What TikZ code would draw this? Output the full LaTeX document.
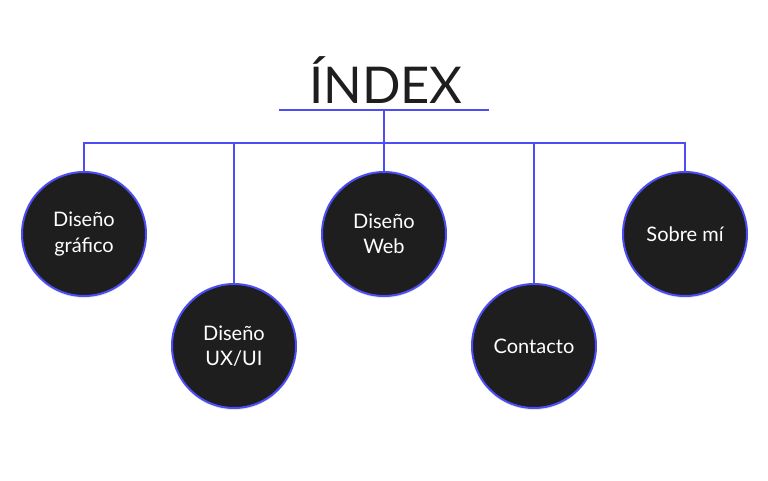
\documentclass[tikz,border=0pt]{standalone}
\usepackage{fontspec}
\setmainfont{Lato}
\usetikzlibrary{positioning, calc, shadows}
\definecolor{indexblue}{HTML}{4D4DF5}
\definecolor{indexdark}{HTML}{1E1E1E}

\tikzset{
  topic/.style={circle, draw=indexblue, line width=1.5pt, fill=indexdark,
    minimum size=93pt, inner sep=0pt, text=white, align=center,
    font=\fontsize{15}{19}\selectfont,
    drop shadow={opacity=0.18, shadow xshift=0pt, shadow yshift=-1.5pt}},
  link/.style={indexblue, line width=1.5pt}
}

\begin{document}
\begin{tikzpicture}[x=0.75pt, y=-0.75pt]
  \useasboundingbox (0,0) rectangle (768,480);

  % Title
  \node[font=\fontsize{38}{44}\selectfont, text=indexdark, anchor=base, inner sep=0pt]
    (title) at (386,103) {ÍNDEX};
  \coordinate (ulL) at (279,110);
  \coordinate (ulR) at (489,110);
  \coordinate (hub) at (384,110);
  \coordinate (bus) at (384,143);
  \draw[link] (ulL) -- (ulR);
  \draw[link] (hub) -- (bus);

  % Topics
  \node[topic] (grafico)  at (84,234)  {Diseño\\gráfico};
  \node[topic] (uxui)     at (234,346) {Diseño\\UX/UI};
  \node[topic] (web)      at (384,234) {Diseño\\Web};
  \node[topic] (contacto) at (534,346) {Contacto};
  \node[topic] (sobre)    at (685,234) {Sobre mí};

  % Branches
  \draw[link] (bus) -| (grafico.north);
  \draw[link] (bus) -| (sobre.north);
  \draw[link] (bus) -- (web.north);
  \draw[link] (uxui.north) |- (bus);
  \draw[link] (contacto.north) |- (bus);
\end{tikzpicture}
\end{document}
